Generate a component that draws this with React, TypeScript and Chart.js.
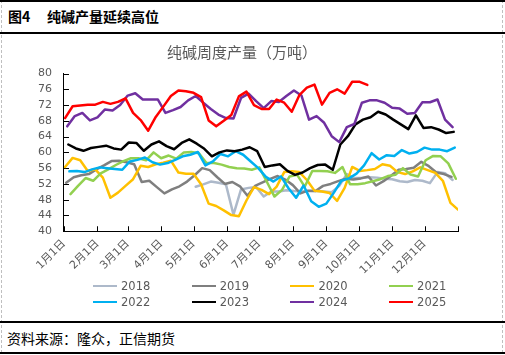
import React, { useEffect, useRef } from 'react';
import { Chart, registerables } from 'chart.js';

Chart.register(...registerables);

// ---------- data ----------
const years = ['2018', '2019', '2020', '2021', '2022', '2023', '2024', '2025'];
const colors = ['#ADB9CA', '#7F7F7F', '#FFC000', '#92D050', '#00B0F0', '#000000', '#7030A0', '#FF0000'];
// day-of-year of the first weekly (Thursday) observation of each year
const startDays = [122, 2, 1, 6, 5, 4, 3, 1];

const v2018 = [51.3, 51.9, 52.6, 52.3, 51.9, 44.2, 50.6, 51.0, 51.2, 48.8, 50.1, 50.1, 50.4, 50.2, 50.1, 50.2, 50.2, 50.1, 49.9, 51.5, 54.5, 53.5, 53.5, 53.7, 53.6, 53.3, 53.2, 52.7, 52.5, 53.0, 52.8, 52.2, 55.0, 54.7, 53.0];
const v2019 = [52.3, 53.7, 54.2, 54.5, 55.7, 56.7, 57.8, 57.9, 57.5, 57.0, 52.5, 52.8, 51.2, 49.6, 50.6, 51.4, 52.6, 54.2, 56.0, 55.5, 53.7, 52.0, 52.5, 51.4, 49.0, 51.5, 52.4, 53.3, 54.0, 53.1, 51.7, 49.6, 50.3, 50.2, 51.5, 52.0, 52.7, 53.3, 53.1, 53.4, 53.9, 51.6, 52.7, 54.1, 55.6, 55.8, 56.1, 57.6, 56.5, 54.9, 54.5, 53.8];
const v2020 = [56.3, 58.6, 58.0, 55.3, 55.7, 53.6, 48.5, 49.8, 51.5, 53.2, 56.6, 56.3, 57.0, 57.4, 57.9, 54.9, 54.6, 54.6, 51.9, 47.0, 46.4, 45.3, 44.1, 43.8, 47.8, 51.2, 50.5, 49.4, 51.3, 55.0, 55.2, 55.0, 53.0, 50.3, 50.1, 49.7, 47.7, 51.0, 56.3, 55.3, 55.5, 55.8, 57.0, 56.6, 55.0, 54.5, 55.2, 56.2, 55.5, 54.8, 52.8, 47.2, 45.5];
const v2021 = [49.4, 51.5, 53.5, 52.8, 54.7, 55.7, 56.8, 57.8, 58.5, 58.5, 58.0, 60.0, 58.5, 59.2, 58.4, 60.0, 60.1, 59.8, 57.3, 57.3, 56.9, 56.3, 56.0, 55.9, 55.6, 56.2, 52.5, 48.8, 50.5, 53.9, 54.3, 51.3, 55.3, 55.3, 55.2, 54.8, 56.3, 51.9, 51.9, 52.2, 52.7, 53.2, 54.0, 54.3, 56.0, 54.4, 53.9, 58.0, 59.1, 59.0, 57.2, 53.3];
const v2022 = [55.2, 55.3, 55.0, 55.7, 56.2, 56.0, 55.8, 55.6, 57.7, 58.1, 58.7, 57.5, 56.9, 57.3, 58.1, 59.0, 59.4, 60.1, 56.7, 57.7, 59.6, 59.0, 60.3, 59.4, 57.7, 56.0, 53.8, 52.6, 53.9, 50.9, 48.5, 51.6, 47.6, 46.2, 47.0, 49.8, 52.8, 53.4, 54.6, 56.7, 59.8, 58.2, 59.3, 59.1, 60.6, 59.7, 60.1, 61.2, 60.7, 60.7, 60.3, 61.2];
const v2023 = [62.0, 61.0, 60.4, 61.1, 61.4, 61.7, 61.0, 60.7, 62.5, 62.4, 60.4, 62.0, 62.8, 61.6, 60.8, 62.4, 63.3, 62.2, 60.9, 59.0, 60.0, 60.5, 60.3, 60.7, 61.3, 60.3, 56.3, 56.7, 57.0, 55.3, 54.3, 54.9, 56.0, 56.8, 56.9, 55.6, 62.0, 64.1, 67.1, 68.3, 68.9, 70.3, 69.6, 68.3, 67.1, 65.9, 69.4, 66.2, 66.4, 65.8, 64.9, 65.2];
const v2024 = [66.6, 69.2, 70.0, 68.1, 68.9, 70.9, 70.6, 72.0, 74.4, 75.0, 73.4, 73.4, 73.4, 70.0, 70.7, 71.5, 73.2, 74.3, 72.6, 71.0, 69.6, 68.7, 68.6, 73.8, 74.9, 73.0, 71.2, 73.0, 72.8, 74.3, 75.7, 74.4, 68.3, 69.2, 67.5, 64.1, 62.6, 66.4, 67.2, 72.6, 73.2, 73.2, 72.6, 71.3, 71.1, 69.8, 70.0, 72.7, 72.7, 73.4, 68.3, 66.4];
const v2025 = [68.7, 71.7, 71.9, 72.1, 72.1, 72.8, 72.3, 72.8, 73.7, 70.0, 68.2, 65.5, 69.0, 71.6, 74.3, 75.7, 75.5, 75.1, 74.0, 68.1, 66.6, 68.0, 69.5, 74.2, 75.4, 72.0, 71.0, 71.0, 73.4, 72.6, 70.3, 74.5, 76.4, 77.2, 72.1, 75.1, 76.0, 74.9, 77.9, 77.9, 77.1];

const seriesValues = [v2018, v2019, v2020, v2021, v2022, v2023, v2024, v2025];

const monthTickDays = [0, 31, 59, 90, 120, 151, 181, 212, 243, 273, 304, 334, 365];
const monthLabels = ['1月1日', '2月1日', '3月1日', '4月1日', '5月1日', '6月1日', '7月1日', '8月1日', '9月1日', '10月1日', '11月1日', '12月1日', ''];

const chartTitle = '纯碱周度产量（万吨）';
const figureTitle = '纯碱产量延续高位';
const figureNo = '图4';
const sourceText = '资料来源：隆众，正信期货';

const TICK_FONT = "'DejaVu Sans', 'Noto Sans CJK SC', sans-serif";

const innerTicks = {
  id: 'innerTicks',
  beforeDatasetsDraw(chart: any) {
    const { ctx, chartArea } = chart;
    const xs = chart.scales.x;
    const ys = chart.scales.y;
    ctx.save();
    ctx.strokeStyle = '#000';
    ctx.lineWidth = 1;
    xs.ticks.forEach((t: any) => {
      const px = Math.round(xs.getPixelForValue(t.value)) + 0.5;
      ctx.beginPath();
      ctx.moveTo(px, chartArea.bottom);
      ctx.lineTo(px, chartArea.bottom - 5);
      ctx.stroke();
    });
    ys.ticks.forEach((t: any) => {
      const py = Math.round(ys.getPixelForValue(t.value)) + 0.5;
      ctx.beginPath();
      ctx.moveTo(chartArea.left, py);
      ctx.lineTo(chartArea.left + 5, py);
      ctx.stroke();
    });
    ctx.restore();
  },
};

function LineChart() {
  const ref = useRef<HTMLCanvasElement | null>(null);
  useEffect(() => {
    if (!ref.current) return;
    const datasets = years.map((yr, i) => ({
      label: yr,
      data: seriesValues[i].map((v, k) => ({ x: startDays[i] + 7 * k, y: v })),
      borderColor: colors[i],
      backgroundColor: colors[i],
      borderWidth: 2.5,
      pointRadius: 0,
      tension: 0,
      fill: false,
      borderJoinStyle: 'round' as const,
      borderCapStyle: 'round' as const,
      order: years.length - i,
    }));
    const chart = new Chart(ref.current, {
      type: 'line',
      data: { datasets },
      plugins: [innerTicks],
      options: {
        responsive: false,
        animation: false,
        devicePixelRatio: 1,
        layout: { padding: { left: 26, right: 47, top: 0, bottom: 0 } },
        plugins: {
          legend: { display: false },
          tooltip: { enabled: false },
          title: {
            display: true,
            text: chartTitle,
            color: '#595959',
            font: { size: 15, family: "'Noto Sans CJK SC', sans-serif", weight: 'normal' },
            padding: { top: 10, bottom: 12.5 },
          },
        },
        scales: {
          x: {
            type: 'linear',
            min: 0,
            max: 365,
            grid: { display: false, drawTicks: false },
            border: { display: true, color: '#000', width: 1 },
            afterBuildTicks: (scale: any) => {
              scale.ticks = monthTickDays.map((d) => ({ value: d }));
            },
            ticks: {
              autoSkip: false,
              minRotation: 45,
              maxRotation: 45,
              padding: 6,
              color: '#595959',
              font: { size: 11, family: TICK_FONT },
              callback: (_v: any, idx: number) => monthLabels[idx],
            },
          },
          y: {
            min: 40,
            max: 80,
            grid: { display: false, drawTicks: false },
            border: { display: true, color: '#000', width: 1 },
            ticks: {
              stepSize: 4,
              autoSkip: false,
              padding: 12,
              color: '#595959',
              font: { size: 11, family: TICK_FONT },
            },
          },
        },
      },
    });
    return () => chart.destroy();
  }, []);
  return (
    <canvas
      ref={ref}
      width={505}
      height={250}
      style={{ position: 'absolute', left: 0, top: 33, width: 505, height: 250 }}
    />
  );
}

export default function App() {
  return (
    <div
      style={{
        position: 'fixed',
        left: 0,
        top: 0,
        width: 505,
        height: 355,
        background: '#fff',
        overflow: 'hidden',
        fontFamily: "'Noto Sans CJK SC', sans-serif",
      }}
    >
      {/* dashed side borders */}
      <div style={{ position: 'absolute', left: 1, top: 0, height: 353, borderLeft: '1px dashed #BFBFBF' }} />
      <div style={{ position: 'absolute', left: 502, top: 0, height: 353, borderLeft: '1px dashed #BFBFBF' }} />
      {/* top line */}
      <div style={{ position: 'absolute', left: 0, top: 0, width: 505, height: 2, background: '#000' }} />
      {/* header */}
      <div style={{ position: 'absolute', left: 8, top: 7, fontSize: 14, fontWeight: 'bold', lineHeight: '18px', color: '#000', whiteSpace: 'nowrap' }}>
        {figureNo}
      </div>
      <div style={{ position: 'absolute', left: 47, top: 7, fontSize: 14, fontWeight: 'bold', lineHeight: '18px', color: '#000', whiteSpace: 'nowrap' }}>
        {figureTitle}
      </div>
      <div style={{ position: 'absolute', left: 0, top: 32, width: 505, height: 1.5, background: '#000' }} />

      <LineChart />

      {/* legend */}
      {years.map((yr, i) => {
        const col = i % 4;
        const row = Math.floor(i / 4);
        const left = 93 + col * 98.7;
        const cy = 286 + row * 16;
        return (
          <div key={yr}>
            <div style={{ position: 'absolute', left, top: cy - 1, width: 24, height: 2, background: colors[i] }} />
            <div
              style={{
                position: 'absolute',
                left: left + 28,
                top: cy - 8,
                lineHeight: '16px',
                fontSize: 11.5,
                fontFamily: TICK_FONT,
                color: '#595959',
                whiteSpace: 'nowrap',
              }}
            >
              {yr}
            </div>
          </div>
        );
      })}

      {/* footer */}
      <div style={{ position: 'absolute', left: 0, top: 321, width: 505, height: 1.5, background: '#000' }} />
      <div style={{ position: 'absolute', left: 7, top: 329, fontSize: 14, lineHeight: '18px', color: '#000', whiteSpace: 'nowrap' }}>
        {sourceText}
      </div>
      <div style={{ position: 'absolute', left: 0, top: 352, width: 505, height: 1.5, background: '#000' }} />
    </div>
  );
}
